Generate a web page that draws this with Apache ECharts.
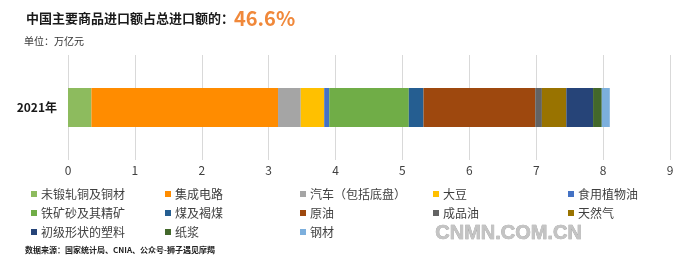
<!DOCTYPE html>
<html>
<head>
<meta charset="utf-8">
<script src="https://cdn.jsdelivr.net/npm/echarts@6/dist/echarts.min.js"></script>
<style>
  html, body { margin: 0; padding: 0; background: #fff; }
  #chart { width: 682px; height: 255px; }
</style>
</head>
<body>
<div id="chart"></div>
<script>
// 年份
var categories = ['2021年'];
// 各商品进口额（万亿元）
var seriesNames = ['未锻轧铜及铜材', '集成电路', '汽车（包括底盘）', '大豆', '食用植物油',
  '铁矿砂及其精矿', '煤及褐煤', '原油', '成品油', '天然气',
  '初级形状的塑料', '纸浆', '钢材'];
var seriesValues = [0.35, 2.79, 0.34, 0.35, 0.075, 1.19, 0.22, 1.67, 0.10, 0.365, 0.40, 0.13, 0.12];
var seriesColors = ['#8DBB5E', '#FF8C00', '#A5A5A5', '#FFC000', '#4472C4',
  '#70AD47', '#255E91', '#9E480E', '#636363', '#997300',
  '#264478', '#43682B', '#7CAFDD'];
// 坐标轴刻度
var axisMin = 0, axisMax = 9, axisStep = 1;

var FONT = '"Noto Sans CJK SC", "Noto Sans", sans-serif';

var myChart = echarts.init(document.getElementById('chart'));

// 图例按列排，每列一个legend
var legendCols = [
  { left: 31, names: [0, 5, 10] },
  { left: 165, names: [1, 6, 11] },
  { left: 300, names: [2, 7, 12] },
  { left: 433, names: [3, 8] },
  { left: 568, names: [4, 9] }
];
var legends = legendCols.map(function (col) {
  return {
    orient: 'vertical',
    left: col.left,
    top: 188,
    icon: 'rect',
    itemWidth: 6,
    itemHeight: 6,
    itemGap: 7,
    padding: 0,
    selectedMode: false,
    textStyle: { fontFamily: FONT, fontSize: 12, color: '#404040', lineHeight: 12, padding: [0, 0, 0, -1] },
    data: col.names.map(function (i) { return seriesNames[i]; })
  };
});

var series = seriesNames.map(function (name, i) {
  return {
    name: name,
    type: 'bar',
    stack: 'total',
    barWidth: 39,
    itemStyle: { color: seriesColors[i] },
    data: [seriesValues[i]]
  };
});

myChart.setOption({
  animation: false,
  title: [
    {
      text: '{a|中国主要商品进口额占总进口额的：}{b|46.6%}',
      left: 21, top: 3,
      textStyle: {
        rich: {
          a: { fontFamily: FONT, fontSize: 13, fontWeight: 'bold', color: '#1a1a1a' },
          b: { fontFamily: FONT, fontSize: 20, fontWeight: 'bold', color: '#F0883A' }
        }
      }
    },
    {
      text: '单位：万亿元',
      left: 19, top: 31,
      textStyle: { fontFamily: FONT, fontSize: 10, fontWeight: 'normal', color: '#333' }
    },
    {
      text: '数据来源：国家统计局、CNIA、公众号-狮子遇见摩羯',
      left: 20, top: 241,
      textStyle: { fontFamily: FONT, fontSize: 8, fontWeight: 'bold', color: '#222' }
    }
  ],
  graphic: [{
    type: 'text',
    left: 435, top: 223,
    style: {
      text: 'CNMN.COM.CN',
      font: 'bold 20px "Liberation Sans", sans-serif',
      fill: '#C4C4C4',
      stroke: '#9a9a9a',
      lineWidth: 0.6
    }
  }],
  legend: legends,
  grid: { left: 68, right: 12, top: 55, height: 105 },
  xAxis: {
    type: 'value',
    min: axisMin, max: axisMax, interval: axisStep,
    axisLine: { show: false },
    axisTick: { show: false },
    axisLabel: { fontFamily: FONT, fontSize: 12, color: '#404040', margin: 4 },
    splitLine: { lineStyle: { color: '#D9D9D9', width: 1 } }
  },
  yAxis: {
    type: 'category',
    data: categories,
    axisLine: { show: false },
    axisTick: { show: false },
    axisLabel: { fontFamily: FONT, fontSize: 12, fontWeight: 'bold', color: '#1a1a1a', margin: 11 }
  },
  series: series
});
</script>
</body>
</html>
